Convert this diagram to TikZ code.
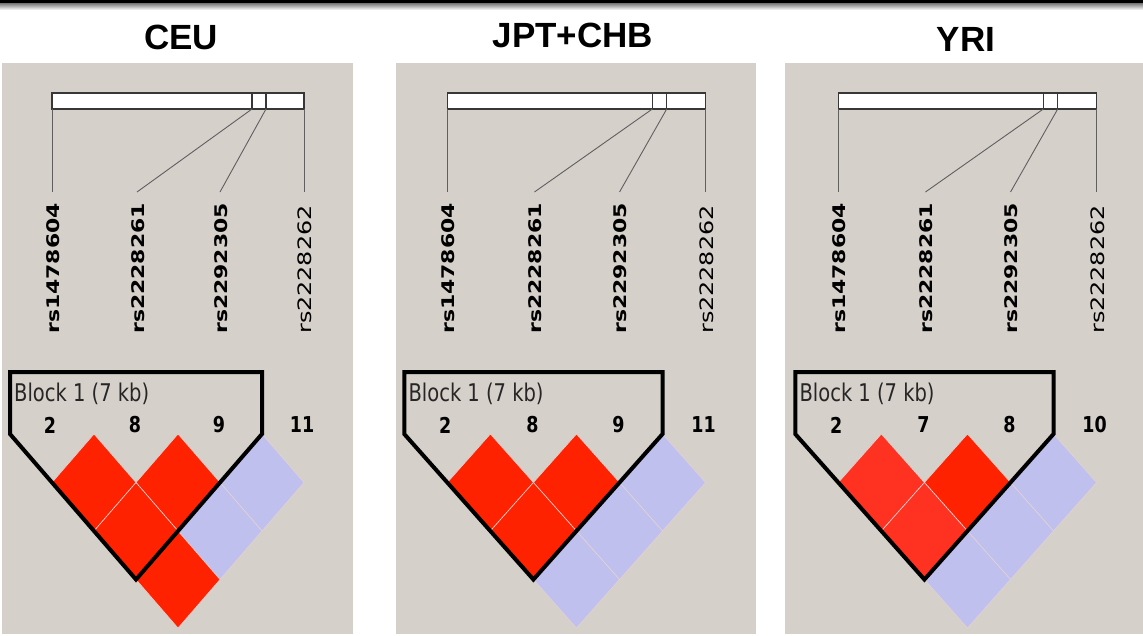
\documentclass[tikz,border=0pt]{standalone}
\usepackage{fontspec}
\newfontfamily\titlefont{Liberation Sans}
\newfontfamily\hapfont{DejaVu Sans}
\definecolor{panelbg}{RGB}{214,208,202}
\definecolor{ldred}{RGB}{255,34,0}
\definecolor{ldlight}{RGB}{255,50,34}
\definecolor{ldblue}{RGB}{192,192,238}
\definecolor{tickgray}{RGB}{95,95,95}
\definecolor{bargray}{RGB}{55,55,55}
\definecolor{cellline}{RGB}{226,210,210}
\tikzset{
  poptitle/.style={inner sep=0pt, font=\titlefont\bfseries\fontsize{35}{40}\selectfont},
  snp/.style={rotate=90, anchor=west, inner sep=0pt, font=\hapfont\fontsize{17.4}{18}\selectfont},
  blocklabel/.style={anchor=base west, inner sep=0pt, text=black!85, font=\hapfont\fontsize{19.5}{20}\selectfont},
  snpcount/.style={inner sep=0pt, font=\hapfont\bfseries\fontsize{17.5}{18}\selectfont},
  ldcell/.style={draw=cellline, line width=0.6pt},
}
\begin{document}
\begin{tikzpicture}[x=1pt, y=-1pt]
    \useasboundingbox (0,0) rectangle (1143,635);

    % Dark bar at the top
    \fill[black] (0,0) rectangle (1143,3.5);
    \shade[top color=black!50, bottom color=white] (0,3.5) rectangle (1143,10);

    % Gray panels
    \fill[panelbg] (1.5,63) rectangle (353,634);
    \fill[panelbg] (396,63) rectangle (756,634);
    \fill[panelbg] (785,63) rectangle (1143,634);

    % Population titles
    \node[poptitle] (ceu) at (181,37.5) {CEU};
    \node[poptitle] (jpt) at (573,35) {JPT+CHB};
    \node[poptitle] (yri) at (966,39.5) {YRI};

    \foreach \p/\dx/\sx/\na/\nb/\nc/\nd/\ca/\cf in {1/0/1/2/8/9/11/ldred/ldred, 2/394/1.025/2/8/9/11/ldred/ldblue, 3/785/1.025/2/7/8/10/ldlight/ldblue}{
    \begin{scope}[xshift=\dx pt, xscale=\sx]
        % Gene bar
        \draw[bargray, line width=1.5pt, fill=white] (52,93) rectangle (304,109);
        \draw[bargray, line width=1.2pt] (252,93) -- (252,109);
        \draw[bargray, line width=1.2pt] (266,93) -- (266,109);

        % Marker positions on the bar and above the names
        \coordinate (b\p-1) at (52,109);
        \coordinate (b\p-2) at (252,109);
        \coordinate (b\p-3) at (266,109);
        \coordinate (b\p-4) at (304,109);
        \coordinate (t\p-1) at (52,192);
        \coordinate (t\p-2) at (137,192);
        \coordinate (t\p-3) at (220,192);
        \coordinate (t\p-4) at (304,192);
        \foreach \k in {1,...,4}
            \draw[tickgray, line width=0.9pt] (b\p-\k) -- (t\p-\k);

        % Marker names
        \node[snp] (s\p-1) at (53,334) {\scalebox{1.26}[1]{\bfseries rs1478604}};
        \node[snp] (s\p-2) at (138,334) {\scalebox{1.26}[1]{\bfseries rs2228261}};
        \node[snp] (s\p-3) at (221,334) {\scalebox{1.26}[1]{\bfseries rs2292305}};
        \node[snp] (s\p-4) at (305,334) {\fontsize{18.5}{19}\selectfont\scalebox{1.29}[1]{rs2228262}};

        % LD cells
        \foreach \i/\j/\c in {1/2/\ca, 2/3/ldred, 3/4/ldblue, 1/3/\ca, 2/4/ldblue, 1/4/\cf}
            \filldraw[ldcell, fill=\c] ({52+42*(\i+\j-2)},{434+48.5*(\j-\i-1)}) -- ++(42,48.5) -- ++(-42,48.5) -- ++(-42,-48.5) -- cycle;

        % Block outline
        \draw[line width=4pt, line join=miter] (10,372) -- (262,372) -- (262,434) -- (136,579.5) -- (10,434) -- cycle;
        \node[blocklabel] (blk\p) at (14,401) {\scalebox{1}[1.25]{Block 1 (7 kb)}};

        % Marker numbers
        \node[snpcount] (n\p-1) at (50,425) {\scalebox{1}[1.25]{\na}};
        \node[snpcount] (n\p-2) at (135,425) {\scalebox{1}[1.25]{\nb}};
        \node[snpcount] (n\p-3) at (219,425) {\scalebox{1}[1.25]{\nc}};
        \node[snpcount] (n\p-4) at (302,425) {\scalebox{1}[1.25]{\nd}};
    \end{scope}
    }
\end{tikzpicture}
\end{document}
